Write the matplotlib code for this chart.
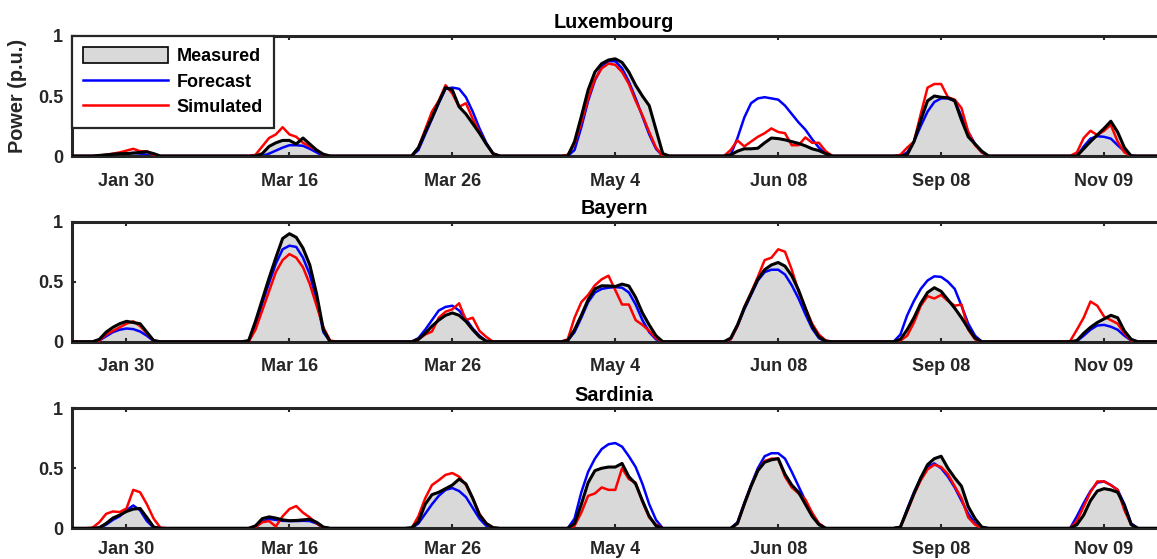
import numpy as np
import matplotlib
matplotlib.use("Agg")
import matplotlib.pyplot as plt
from matplotlib.patches import Patch
from matplotlib.lines import Line2D

# Selected days (one hourly profile per day, shown back to back)
days = ["Jan 30", "Mar 16", "Mar 26", "May 4", "Jun 08", "Sep 08", "Nov 09"]
regions = ["Luxembourg", "Bayern", "Sardinia"]

# Each daily profile lists hours 04:00 .. 20:00; all other hours are zero.
first_hour = 4

# ---- Luxembourg ----
lux_measured = [
    [0, 0, 0, 0, .005, .01, .015, .02, .02, .025, .03, .035, .02, 0, 0, 0, 0],
    [0, 0, 0, 0, .02, .08, .11, .13, .13, .10, .15, .10, .05, .015, 0, 0, 0],
    [0, 0, 0, .07, .20, .32, .45, .57, .55, .41, .35, .27, .19, .10, .02, 0, 0],
    [0, 0, .12, .33, .55, .70, .77, .80, .81, .78, .70, .59, .50, .42, .22, .02, 0],
    [0, .01, .04, .06, .06, .065, .11, .15, .145, .135, .12, .105, .085, .06, .045, .02, 0],
    [0, 0, 0, .01, .12, .30, .46, .50, .49, .485, .46, .30, .16, .10, .04, 0, 0],
    [0, 0, 0, 0, 0, .06, .12, .175, .23, .29, .20, .07, 0, 0, 0, 0, 0],
]
lux_forecast = [
    [0, 0, 0, 0, 0, 0, .005, .01, .02, .025, .02, .01, 0, 0, 0, 0, 0],
    [0, 0, 0, 0, 0, .02, .045, .07, .09, .09, .085, .06, .03, 0, 0, 0, 0],
    [0, 0, 0, .05, .18, .31, .44, .56, .57, .56, .49, .37, .23, .11, .02, 0, 0],
    [0, 0, .05, .24, .46, .63, .74, .79, .79, .73, .62, .48, .33, .18, .06, 0, 0],
    [0, .01, .15, .32, .44, .48, .49, .48, .47, .42, .35, .28, .22, .14, .07, .02, 0],
    [0, 0, 0, .03, .12, .25, .37, .45, .48, .48, .46, .33, .20, .10, .03, 0, 0],
    [0, 0, 0, 0, 0, .08, .145, .165, .16, .145, .09, .04, .005, 0, 0, 0, 0],
]
lux_simulated = [
    [0, 0, 0, 0, .005, .01, .02, .03, .045, .06, .04, .04, .01, 0, 0, 0, 0],
    [0, 0, 0, .01, .08, .15, .18, .24, .18, .16, .11, .08, .05, .01, 0, 0, 0],
    [0, 0, 0, .07, .22, .37, .46, .59, .52, .41, .44, .31, .20, .10, .02, 0, 0],
    [0, .01, .10, .28, .48, .64, .73, .77, .76, .70, .60, .46, .34, .20, .07, 0, 0],
    [0, .05, .13, .08, .12, .16, .19, .23, .20, .19, .09, .09, .155, .11, .11, .04, 0],
    [0, 0, .01, .07, .12, .35, .57, .60, .60, .49, .47, .40, .20, .09, .03, 0, 0],
    [0, 0, 0, 0, .03, .15, .21, .175, .21, .26, .12, .03, 0, 0, 0, 0, 0],
]

# ---- Bayern ----
bay_measured = [
    [0, 0, 0, 0, .02, .08, .12, .15, .17, .16, .15, .08, .01, 0, 0, 0, 0],
    [0, 0, .01, .17, .35, .53, .70, .86, .90, .87, .78, .64, .40, .10, 0, 0, 0],
    [0, 0, 0, .02, .07, .13, .18, .22, .24, .22, .17, .10, .04, .005, 0, 0, 0],
    [0, .01, .10, .22, .35, .44, .466, .465, .46, .48, .465, .37, .24, .14, .05, 0, 0],
    [0, .03, .14, .28, .40, .52, .60, .64, .66, .63, .55, .43, .28, .13, .04, .005, 0],
    [0, 0, .02, .10, .20, .32, .41, .45, .42, .35, .28, .20, .11, .03, 0, 0, 0],
    [0, 0, 0, 0, .01, .07, .12, .16, .19, .22, .20, .09, .02, 0, 0, 0, 0],
]
bay_forecast = [
    [0, 0, 0, 0, .01, .045, .08, .10, .11, .105, .085, .05, .005, 0, 0, 0, 0],
    [0, 0, .005, .13, .32, .49, .65, .77, .80, .79, .70, .56, .35, .08, 0, 0, 0],
    [0, 0, 0, .03, .10, .18, .26, .29, .30, .26, .19, .11, .05, .005, 0, 0, 0],
    [0, .01, .08, .20, .33, .41, .44, .45, .455, .45, .41, .31, .18, .08, .02, 0, 0],
    [0, .02, .13, .27, .39, .51, .58, .60, .60, .56, .47, .36, .23, .11, .03, 0, 0],
    [0, 0, .06, .22, .34, .44, .51, .545, .54, .50, .44, .30, .15, .05, 0, 0, 0],
    [0, 0, 0, 0, .005, .05, .10, .135, .14, .125, .10, .05, .01, 0, 0, 0, 0],
]
bay_simulated = [
    [0, 0, 0, 0, .01, .06, .09, .12, .15, .17, .13, .07, .01, 0, 0, 0, 0],
    [0, 0, 0, .10, .26, .42, .58, .68, .73, .70, .62, .48, .30, .12, .01, 0, 0],
    [0, 0, 0, .02, .06, .085, .20, .25, .27, .32, .18, .20, .09, .04, 0, 0, 0],
    [0, .02, .20, .33, .39, .47, .52, .55, .43, .31, .31, .18, .14, .09, .03, 0, 0],
    [0, .02, .13, .29, .41, .54, .68, .70, .77, .75, .60, .42, .28, .15, .06, .01, 0],
    [0, 0, .01, .05, .16, .30, .38, .36, .39, .34, .30, .31, .10, .02, 0, 0, 0],
    [0, 0, 0, .005, .10, .20, .335, .30, .21, .18, .15, .07, .01, 0, 0, 0, 0],
]

# ---- Sardinia ----
sar_measured = [
    [0, 0, 0, 0, .005, .04, .085, .11, .14, .16, .165, .09, .01, 0, 0, 0, 0],
    [0, 0, 0, .02, .08, .095, .085, .07, .063, .065, .07, .075, .05, .01, 0, 0, 0],
    [0, 0, .005, .055, .20, .28, .30, .33, .36, .41, .37, .25, .11, .04, .005, 0, 0],
    [0, 0, .04, .20, .38, .48, .50, .51, .51, .54, .43, .37, .23, .10, .02, 0, 0],
    [0, 0, .04, .20, .35, .48, .55, .57, .58, .45, .36, .30, .20, .10, .03, 0, 0],
    [0, 0, .01, .15, .29, .42, .53, .58, .60, .50, .42, .35, .18, .08, .01, 0, 0],
    [0, 0, 0, 0, .03, .11, .23, .31, .33, .32, .30, .19, .03, 0, 0, 0, 0],
]
sar_forecast = [
    [0, 0, 0, 0, .003, .03, .07, .10, .15, .19, .15, .06, .005, 0, 0, 0, 0],
    [0, 0, 0, .01, .055, .077, .07, .062, .06, .06, .062, .06, .04, .005, 0, 0, 0],
    [0, 0, 0, .04, .12, .20, .27, .32, .335, .31, .26, .17, .08, .02, 0, 0, 0],
    [0, 0, .08, .30, .47, .58, .66, .70, .71, .68, .60, .51, .37, .20, .07, 0, 0],
    [0, 0, .05, .21, .36, .50, .60, .625, .625, .58, .47, .35, .23, .11, .04, 0, 0],
    [0, 0, .01, .16, .30, .42, .51, .54, .50, .43, .34, .23, .12, .04, .005, 0, 0],
    [0, 0, 0, 0, .10, .21, .31, .38, .39, .36, .32, .20, .04, 0, 0, 0, 0],
]
sar_simulated = [
    [0, 0, 0, .005, .05, .12, .14, .135, .165, .32, .30, .20, .08, .005, 0, 0, 0],
    [0, 0, 0, .01, .05, .06, .015, .10, .16, .185, .13, .09, .04, .005, 0, 0, 0],
    [0, 0, 0, .10, .25, .36, .40, .445, .46, .43, .36, .25, .12, .04, .005, 0, 0],
    [0, 0, .02, .13, .27, .29, .34, .32, .32, .50, .41, .38, .22, .09, .03, 0, 0],
    [0, 0, .04, .20, .35, .48, .56, .58, .58, .43, .34, .29, .24, .13, .04, 0, 0],
    [0, 0, .01, .14, .28, .40, .49, .53, .51, .45, .35, .25, .09, .03, 0, 0, 0],
    [0, 0, 0, 0, .06, .18, .30, .39, .39, .36, .32, .15, .03, 0, 0, 0, 0],
]

series = {
    "Luxembourg": (lux_measured, lux_forecast, lux_simulated),
    "Bayern": (bay_measured, bay_forecast, bay_simulated),
    "Sardinia": (sar_measured, sar_forecast, sar_simulated),
}


def expand(profiles):
    """Turn the daily daylight profiles into one continuous hourly series."""
    out = []
    for prof in profiles:
        day = np.zeros(24)
        day[first_hour:first_hour + len(prof)] = prof
        out.append(day)
    return np.concatenate(out)


plt.rcParams["font.family"] = ["Liberation Sans", "DejaVu Sans"]
plt.rcParams["font.weight"] = "bold"
plt.rcParams["axes.titleweight"] = "bold"
plt.rcParams["axes.labelweight"] = "bold"

AX_COLOR = "#262626"
FILL = "#d9d9d9"

fig = plt.figure(figsize=(11.57, 5.59), dpi=100)
bottoms = [0.7209, 0.3887, 0.0550]
label_pads = [12, 12, 9]
hours = np.arange(24 * len(days))
tick_pos = 12 + 24 * np.arange(len(days))

for i, (region, bottom) in enumerate(zip(regions, bottoms)):
    ax = fig.add_axes([0.0618, bottom, 0.9382, 0.2147])
    meas, fc, sim = (expand(s) for s in series[region])

    ax.fill_between(hours, 0, meas, color=FILL, linewidth=0, zorder=1)
    ax.plot(hours, fc, color="#0000ff", lw=1.8, zorder=2)
    ax.plot(hours, sim, color="#ff0000", lw=1.8, zorder=3)
    ax.plot(hours, meas, color="black", lw=2.2, zorder=4)

    ax.set_xlim(3.9, 163.8)
    ax.set_ylim(0, 1)
    ax.set_xticks(tick_pos)
    ax.set_xticklabels(days)
    ax.set_yticks([0, 0.5, 1])
    ax.set_yticklabels(["0", "0.5", "1"])
    ax.tick_params(axis="both", direction="in", length=3, width=1.5,
                   colors=AX_COLOR, labelsize=13, top=True)
    ax.tick_params(axis="x", pad=label_pads[i])
    ax.tick_params(axis="y", pad=6)
    for side in ("left", "top", "bottom"):
        ax.spines[side].set_linewidth(2.2)
        ax.spines[side].set_color(AX_COLOR)
    ax.spines["right"].set_visible(False)
    ax.set_title(region, fontsize=14.3, pad=5.5, color="black")

    if i == 0:
        ax.set_ylabel("Power (p.u.)", fontsize=14.3, color=AX_COLOR, labelpad=8)
        handles = [
            Patch(facecolor=FILL, edgecolor="black", linewidth=1.2, label="Measured"),
            Line2D([], [], color="#0000ff", lw=1.8, label="Forecast"),
            Line2D([], [], color="#ff0000", lw=1.8, label="Simulated"),
        ]
        leg = ax.legend(handles=handles, loc="upper left", bbox_to_anchor=(0.0, 1.0),
                        borderaxespad=0.0, fontsize=13, handlelength=4.7,
                        handleheight=1.0, handletextpad=0.5, labelspacing=0.4,
                        borderpad=0.62, fancybox=False, framealpha=1,
                        edgecolor=AX_COLOR)
        leg.get_frame().set_linewidth(1.6)
        leg.set_zorder(10)

fig.savefig("out.png", dpi=100)
